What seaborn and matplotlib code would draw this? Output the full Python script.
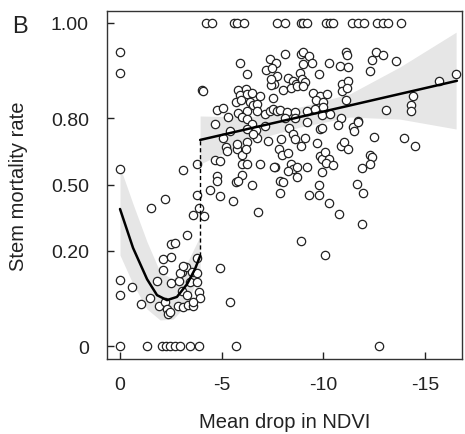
import numpy as np
import pandas as pd
import matplotlib
matplotlib.use("Agg")
import matplotlib.pyplot as plt
import seaborn as sns

# NDVI change per plot (negative = drop); plots with all stems dead / none dead
drop_dead = [-4.23, -4.53, -5.61, -5.76, -6.10, -7.72, -8.12, -8.90, -9.00, -9.20,
             -10.13, -10.33, -10.48, -11.41, -11.71, -12.00, -12.64, -12.94, -13.18, -13.82]
drop_alive = [0.0, -1.33, -2.07, -2.26, -2.46, -2.71, -2.95, -3.44, -3.89, -5.71, -12.74]

# plots with partial mortality
drop_partial = [
    0.0, 0.0, 0.0, 0.0, 0.0, -0.59, -1.03, -1.48, -1.82, -1.52,
    -2.21, -2.51, -2.71, -2.12, -2.51, -2.12, -2.51, -2.90, -3.44, -3.79,
    -3.05, -3.30, -3.89, -3.94, -1.92, -2.21, -2.31, -2.36, -2.46, -2.85,
    -3.10, -3.34, -3.59, -3.59, -3.05, -3.25, -2.95, -3.54, -3.79, -3.30,
    -3.79, -3.10, -3.59, -3.89, -4.13, -3.79, -3.79, -3.10, -4.92, -5.41,
    -4.67, -5.31, -5.41, -5.07, -5.21, -5.26, -5.76, -6.00, -6.25, -6.20,
    -6.74, -7.28, -4.67, -4.92, -6.00, -6.25, -6.89, -7.62, -4.77, -4.77,
    -6.00, -5.71, -5.80, -6.49, -4.43, -4.92, -5.56, -6.79, -7.87, -8.02,
    -7.87, -5.90, -6.25, -4.03, -4.08, -7.38, -7.67, -7.18, -7.48, -7.72,
    -7.57, -7.43, -5.80, -5.90, -6.20, -6.25, -6.49, -6.89, -5.71, -5.95,
    -6.39, -6.54, -6.74, -4.77, -5.07, -5.80, -6.25, -6.74, -7.13, -7.38,
    -7.53, -6.00, -6.25, -6.49, -6.25, -6.69, -7.13, -5.76, -6.54, -7.53,
    -7.72, -7.43,
    -8.12, -8.90, -9.00, -9.30, -9.44, -9.00, -11.12, -11.17, -10.28, -10.82,
    -11.21, -9.79, -8.26, -8.51, -8.66, -8.85, -8.95, -9.10, -8.02, -8.41,
    -8.71, -9.00, -9.49, -9.84, -10.18, -9.64, -9.99, -10.92, -11.21, -10.92,
    -11.17, -11.12, -7.87, -8.21, -8.61, -9.20, -9.59, -9.99, -8.12, -8.61,
    -9.20, -9.94, -10.33, -10.87, -11.71, -7.92, -8.31, -8.51, -8.61, -8.90,
    -9.10, -9.69, -9.84, -7.82, -7.97, -8.26, -7.57, -8.41, -8.51, -8.71,
    -8.26, -8.71, -9.20, -9.30, -9.79, -9.79, -9.94, -9.84, -9.94, -10.08,
    -10.28, -10.13, -10.48, -10.72, -10.87, -11.02, -11.21, -11.46, -11.51, -11.71,
    -11.90, -11.66, -11.95, -10.28, -10.77, -11.90, -8.90, -10.08, -12.30, -12.40,
    -12.30, -12.49, -13.08, -14.31, -14.31, -14.41, -13.97, -14.51, -15.69, -16.53,
    -12.59, -12.94, -12.40, -12.30, -13.58, -9.94,
]
mort_partial = [
    0.980, 0.942, 0.575, 0.099, 0.061, 0.080, 0.041, 0.053, 0.096, 0.387,
    0.430, 0.227, 0.231, 0.169, 0.176, 0.131, 0.091, 0.096, 0.093, 0.093,
    0.070, 0.061, 0.068, 0.053, 0.037, 0.045, 0.032, 0.024, 0.027, 0.037,
    0.035, 0.039, 0.037, 0.045, 0.124, 0.141, 0.121, 0.124, 0.121, 0.265,
    0.173, 0.144, 0.353, 0.387, 0.349, 0.449, 0.599, 0.570, 0.137, 0.045,
    0.778, 0.805, 0.749, 0.719, 0.678, 0.660, 0.669, 0.641, 0.701, 0.669,
    0.719, 0.706, 0.618, 0.613, 0.599, 0.599, 0.599, 0.585, 0.542, 0.517,
    0.546, 0.512, 0.517, 0.497, 0.473, 0.444, 0.420, 0.368, 0.517, 0.512,
    0.459, 0.963, 0.940, 0.898, 0.895, 0.970, 0.963, 0.949, 0.953, 0.935,
    0.915, 0.913, 0.898, 0.883, 0.901, 0.886, 0.889, 0.880, 0.860, 0.866,
    0.860, 0.849, 0.853, 0.832, 0.838, 0.821, 0.828, 0.828, 0.817, 0.828,
    0.873, 0.805, 0.797, 0.778, 0.757, 0.753, 0.770, 0.692, 0.736, 0.835,
    0.828, 0.928,
    0.977, 0.977, 0.980, 0.974, 0.963, 0.961, 0.980, 0.976, 0.963, 0.957,
    0.955, 0.940, 0.930, 0.923, 0.915, 0.942, 0.928, 0.920, 0.898, 0.904,
    0.910, 0.910, 0.889, 0.880, 0.886, 0.867, 0.860, 0.915, 0.923, 0.895,
    0.904, 0.867, 0.832, 0.824, 0.824, 0.828, 0.835, 0.842, 0.801, 0.801,
    0.786, 0.813, 0.817, 0.801, 0.789, 0.715, 0.761, 0.736, 0.715, 0.683,
    0.719, 0.697, 0.757, 0.669, 0.641, 0.650, 0.585, 0.599, 0.575, 0.585,
    0.565, 0.537, 0.585, 0.449, 0.449, 0.497, 0.561, 0.637, 0.623, 0.655,
    0.623, 0.604, 0.594, 0.774, 0.683, 0.701, 0.669, 0.765, 0.749, 0.786,
    0.580, 0.502, 0.459, 0.411, 0.358, 0.313, 0.239, 0.183, 0.641, 0.632,
    0.599, 0.724, 0.832, 0.849, 0.828, 0.880, 0.719, 0.683, 0.923, 0.940,
    0.980, 0.976, 0.968, 0.947, 0.966, 0.761,
]

# segmented fit: quadratic below the breakpoint, linear above
left_fit_drop = [0.0, -0.64, -1.33, -1.82, -2.31, -2.80, -3.30, -3.69, -3.94]
left_fit_mort = [0.382, 0.211, 0.102, 0.060, 0.049, 0.056, 0.088, 0.134, 0.180]
left_band_drop = [0.0, -0.64, -1.33, -1.97, -2.61, -3.30, -3.94]
left_band_lo = [0.183, 0.088, 0.032, 0.016, 0.017, 0.041, 0.128]
left_band_hi = [0.585, 0.406, 0.235, 0.124, 0.102, 0.155, 0.260]

right_fit_drop = [-3.94, -16.57]
right_fit_mort = [0.710, 0.923]
right_band_drop = [-3.94, -6.39, -8.85, -11.31, -13.77, -16.53]
right_band_lo = [0.599, 0.706, 0.765, 0.805, 0.797, 0.757]
right_band_hi = [0.809, 0.805, 0.842, 0.886, 0.955, 0.998]

y_ticks = [0, 0.2, 0.5, 0.8, 1.0]
y_ticklabels = ["0", "0.20", "0.50", "0.80", "1.00"]
x_ticks = [0, -5, -10, -15]


def asin_sqrt(p):
    # arcsine square-root scale used for the mortality axis
    return np.arcsin(np.sqrt(np.asarray(p, dtype=float)))


ndvi = drop_dead + drop_alive + drop_partial
mort = [1.0] * len(drop_dead) + [0.0] * len(drop_alive) + mort_partial
df = pd.DataFrame({"ndvi": ndvi, "mort": mort})
df["mort_t"] = asin_sqrt(df["mort"])

sns.set_style("ticks")
plt.rcParams["font.family"] = ["Liberation Sans", "DejaVu Sans"]
plt.rcParams["axes.unicode_minus"] = False

fig = plt.figure(figsize=(4.65, 4.35), dpi=100)
ax = fig.add_axes([107 / 465, 1 - 360 / 435, 355 / 465, 348 / 435])

band_col = "#e6e6e6"
ax.fill_between(left_band_drop, asin_sqrt(left_band_lo), asin_sqrt(left_band_hi),
                color=band_col, lw=0, zorder=1)
ax.fill_between(right_band_drop, asin_sqrt(right_band_lo), asin_sqrt(right_band_hi),
                color=band_col, lw=0, zorder=1)

sns.scatterplot(data=df, x="ndvi", y="mort_t", ax=ax, marker="o", s=36,
                color="white", edgecolor="#222222", linewidth=0.9, zorder=3)

sns.lineplot(x=left_fit_drop, y=asin_sqrt(left_fit_mort), ax=ax, color="black",
             lw=1.8, zorder=4)
sns.lineplot(x=right_fit_drop, y=asin_sqrt(right_fit_mort), ax=ax, color="black",
             lw=1.8, zorder=4)
ax.plot([left_fit_drop[-1], left_fit_drop[-1]],
        [asin_sqrt(left_fit_mort[-1]), asin_sqrt(right_fit_mort[0])],
        color="black", lw=1, ls=(0, (3, 2)), zorder=4)

ax.set_xlim(0.64, -16.82)
ax.set_ylim(-0.063, 1.629)
ax.set_xticks(x_ticks)
ax.set_xticklabels([str(v) for v in x_ticks])
ax.set_yticks(asin_sqrt(y_ticks))
ax.set_yticklabels(y_ticklabels)
ax.tick_params(direction="in", length=5, width=1, labelsize=14, colors="#222222")
ax.tick_params(axis="x", pad=12)
ax.tick_params(axis="y", pad=13)
for sp in ax.spines.values():
    sp.set_linewidth(1)
    sp.set_color("#333333")

ax.set_xlabel("Mean drop in NDVI", fontsize=14.5, color="#222222")
ax.set_ylabel("Stem mortality rate", fontsize=14.5, color="#222222")
ax.xaxis.set_label_coords(0.5, -0.152)
ax.yaxis.set_label_coords(-0.222, 0.5)

fig.text(12 / 465, 1 - 33 / 435, "B", fontsize=17, ha="left", va="baseline", color="#222222")

fig.savefig("out.png", dpi=100)
